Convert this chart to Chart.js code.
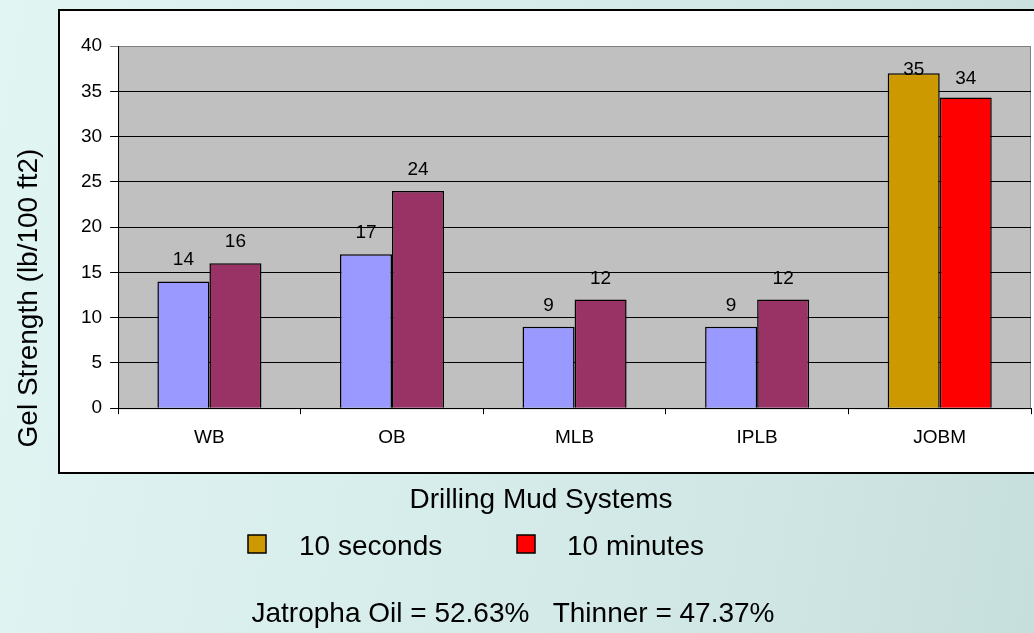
<!DOCTYPE html>
<html>
<head>
<meta charset="utf-8">
<script src="https://cdn.jsdelivr.net/npm/chart.js@4.4.1/dist/chart.umd.min.js"></script>
<style>
html, body { margin: 0; padding: 0; }
body {
    width: 1034px; height: 633px; overflow: hidden;
    background: linear-gradient(100deg, #e1f5f3 0%, #d8eeec 40%, #d0e6e4 75%, #c6dedc 100%);
}
#wrap { position: relative; width: 1034px; height: 633px; }
</style>
</head>
<body>
<div id="wrap"><canvas id="chart"></canvas></div>
<script>
// Chart data.
const categories = ['WB', 'OB', 'MLB', 'IPLB', 'JOBM'];
const tenSeconds = [14, 17, 9, 9, 37];
const tenMinutes = [16, 24, 12, 12, 34.3];
// Printed labels (the JOBM bars were stretched past their labels).
const tenSecondsLabels = [14, 17, 9, 9, 35];
const tenMinutesLabels = [16, 24, 12, 12, 34];
const seriesNames = ['10 seconds', '10 minutes'];
const yTicks = {min: 0, max: 40, step: 5};

const yTitle = 'Gel Strength (lb/100 ft2)';
const xTitle = 'Drilling Mud Systems';
const footnote = 'Jatropha Oil = 52.63%   Thinner = 47.37%';

// Colours.
const secColors = ['#9999ff', '#9999ff', '#9999ff', '#9999ff', '#cc9900'];
const minColors = ['#993366', '#993366', '#993366', '#993366', '#ff0000'];
const legendColors = ['#cc9900', '#ff0000'];

const FONT = '"Liberation Sans", Arial, sans-serif';

// White frame and grey plot area behind everything.
const framePlugin = {
    id: 'frame',
    beforeDraw(chart) {
        const {ctx, chartArea: a} = chart;
        ctx.save();
        ctx.fillStyle = '#ffffff';
        ctx.fillRect(59, 10, 1000, 463);
        ctx.strokeStyle = '#000000';
        ctx.lineWidth = 2;
        ctx.strokeRect(59, 10, 1000, 463);
        ctx.fillStyle = '#c0c0c0';
        ctx.fillRect(a.left, a.top, a.width, a.height);
        ctx.strokeStyle = '#808080';
        ctx.lineWidth = 1;
        ctx.strokeRect(a.left + 0.5, a.top + 0.5, a.width - 1, a.height);
        ctx.restore();
    },
};

// Value labels above each bar, placed at the printed value.
const valueLabels = {
    id: 'valueLabels',
    afterDatasetsDraw(chart) {
        const {ctx} = chart;
        const ys = chart.scales.y;
        const texts = [tenSecondsLabels, tenMinutesLabels];
        ctx.save();
        ctx.font = `19px ${FONT}`;
        ctx.fillStyle = '#000000';
        ctx.textAlign = 'center';
        ctx.textBaseline = 'alphabetic';
        for (const [i, labels] of texts.entries()) {
            const md = chart.getDatasetMeta(i);
            for (const [j, bar] of md.data.entries()) {
                const y = ys.getPixelForValue(labels[j]);
                ctx.fillText(String(labels[j]), bar.x, y - 16);
            }
        }
        ctx.restore();
    },
};

// Axis titles, legend and footnote, which sit outside the plot frame.
const outerText = {
    id: 'outerText',
    afterDraw(chart) {
        const {ctx} = chart;
        ctx.save();
        ctx.fillStyle = '#000000';
        ctx.font = `28px ${FONT}`;
        ctx.textBaseline = 'middle';

        // Y title.
        ctx.save();
        ctx.translate(29, 298);
        ctx.rotate(-Math.PI / 2);
        ctx.textAlign = 'center';
        ctx.fillText(yTitle, 0, 0);
        ctx.restore();

        // X title.
        ctx.textAlign = 'center';
        ctx.fillText(xTitle, 541, 500);

        // Legend.
        const items = [{box: 248, text: 299}, {box: 517, text: 567}];
        ctx.textAlign = 'left';
        for (const [i, it] of items.entries()) {
            ctx.fillStyle = legendColors[i];
            ctx.fillRect(it.box, 535, 18, 18);
            ctx.strokeStyle = '#000000';
            ctx.lineWidth = 1.5;
            ctx.strokeRect(it.box, 535, 18, 18);
            ctx.fillStyle = '#000000';
            ctx.fillText(seriesNames[i], it.text, 547);
        }

        // Footnote.
        ctx.textAlign = 'center';
        ctx.fillText(footnote, 513, 614);
        ctx.restore();
    },
};

new Chart(document.getElementById('chart'), {
    type: 'bar',
    data: {
        labels: categories,
        datasets: [
            {label: seriesNames[0], data: tenSeconds, backgroundColor: secColors},
            {label: seriesNames[1], data: tenMinutes, backgroundColor: minColors},
        ],
    },
    plugins: [framePlugin, valueLabels, outerText],
    options: {
        responsive: true,
        maintainAspectRatio: false,
        animation: false,
        layout: {padding: {top: 46, right: 3, left: 73, bottom: 172}},
        datasets: {
            bar: {
                categoryPercentage: 0.57, barPercentage: 1,
                borderColor: '#000000', borderWidth: 1.5,
            },
        },
        scales: {
            x: {
                grid: {
                    offset: true, drawOnChartArea: false, tickLength: 6,
                    color: '#000000',
                },
                border: {color: '#000000', width: 1},
                ticks: {font: {family: FONT, size: 19}, color: '#000000', padding: 12},
            },
            y: {
                min: yTicks.min, max: yTicks.max,
                grid: {
                    tickLength: 8,
                    color: c => c.tick && c.tick.value === yTicks.max ? '#808080' : '#000000',
                },
                border: {color: '#000000', width: 1},
                ticks: {
                    stepSize: yTicks.step,
                    font: {family: FONT, size: 19}, color: '#000000', padding: 8,
                },
            },
        },
        plugins: {
            legend: {display: false},
            tooltip: {enabled: false},
        },
    },
});
</script>
</body>
</html>
